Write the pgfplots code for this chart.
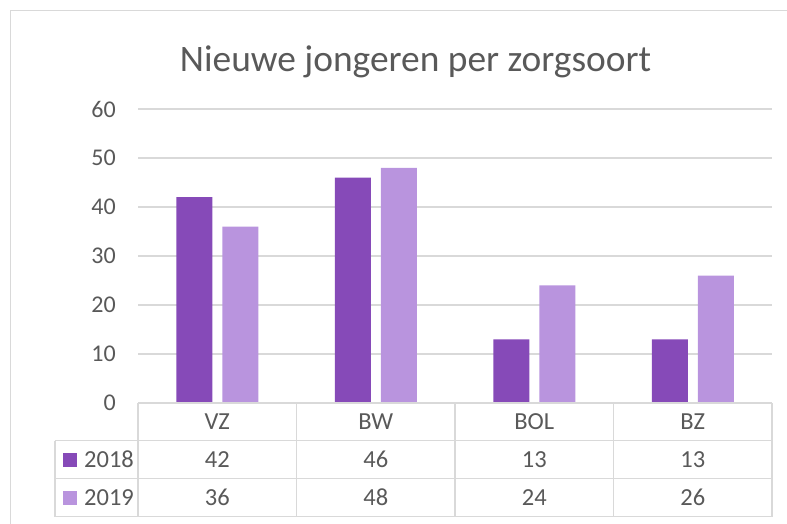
\documentclass[border=0pt]{standalone}
\usepackage{pgfplots}
\pgfplotsset{compat=1.18}
\usepackage{fontspec}
\setmainfont{Carlito}
\definecolor{txt}{HTML}{595959}
\definecolor{gridc}{HTML}{D9D9D9}
\definecolor{cA}{HTML}{864AB8}
\definecolor{cB}{HTML}{B994DE}
\tikzset{
  tbl/.style={text=txt, font=\fontsize{24.5}{28}\selectfont},
  tln/.style={gridc, line width=1.5pt},
}
\begin{document}
\begin{tikzpicture}[x=1pt,y=1pt]
\useasboundingbox (0,0) rectangle (787,523);
\draw[gridc, line width=1.5pt] (10.5,-5) -- (10.5,512.5) -- (800,512.5);
\node[anchor=base, text=txt, font=\fontsize{37.4}{42}\selectfont] at (415.5,451.3) {Nieuwe jongeren per zorgsoort};
\begin{axis}[
  at={(138pt,120pt)}, anchor=south west,
  width=634pt, height=294pt, scale only axis,
  xmin=-0.5, xmax=3.5, ymin=0, ymax=60,
  clip=false,
  axis line style={draw=none},
  tick style={draw=none},
  xtick=\empty,
  ytick={0,10,...,60},
  ymajorgrids,
  grid style={gridc, line width=1.5pt},
  /pgf/number format/assume math mode=true,
  yticklabel style={anchor=east, inner sep=0pt, xshift=-22pt, text=txt, font=\fontsize{24}{28}\selectfont},
  ybar=10pt, bar width=36pt,
]
\addplot[fill=cA, draw=none] coordinates {(0,42) (1,46) (2,13) (3,13)};
\addplot[fill=cB, draw=none] coordinates {(0,36) (1,48) (2,24) (3,26)};
% data table lines
\draw[tln] (axis cs:-0.5,0) -- (axis cs:3.5,0);
\draw[tln] ([xshift=-83pt]axis cs:-0.5,-7.69) -- (axis cs:3.5,-7.69);
\draw[tln] ([xshift=-83pt]axis cs:-0.5,-15.45) -- (axis cs:3.5,-15.45);
\draw[tln] ([xshift=-83pt]axis cs:-0.5,-23.2) -- (axis cs:3.5,-23.2);
\draw[tln] ([xshift=-83pt]axis cs:-0.5,-7.69) -- ([xshift=-83pt]axis cs:-0.5,-23.2);
\draw[tln] (axis cs:-0.5,0) -- (axis cs:-0.5,-23.2);
\draw[tln] (axis cs:0.5,0) -- (axis cs:0.5,-23.2);
\draw[tln] (axis cs:1.5,0) -- (axis cs:1.5,-23.2);
\draw[tln] (axis cs:2.5,0) -- (axis cs:2.5,-23.2);
\draw[tln] (axis cs:3.5,0) -- (axis cs:3.5,-23.2);
% header
\node[tbl] at (axis cs:0,-3.78) {VZ};
\node[tbl] at (axis cs:1,-3.78) {BW};
\node[tbl] at (axis cs:2,-3.78) {BOL};
\node[tbl] at (axis cs:3,-3.78) {BZ};
% values
\node[tbl] at (axis cs:0,-11.57) {42};
\node[tbl] at (axis cs:1,-11.57) {46};
\node[tbl] at (axis cs:2,-11.57) {13};
\node[tbl] at (axis cs:3,-11.57) {13};
\node[tbl] at (axis cs:0,-19.33) {36};
\node[tbl] at (axis cs:1,-19.33) {48};
\node[tbl] at (axis cs:2,-19.33) {24};
\node[tbl] at (axis cs:3,-19.33) {26};
% legend keys
\fill[cA] ([xshift=-75pt,yshift=-7pt]axis cs:-0.5,-11.57) rectangle ++(14pt,14pt);
\fill[cB] ([xshift=-75pt,yshift=-7pt]axis cs:-0.5,-19.33) rectangle ++(14pt,14pt);
\node[tbl, anchor=west, inner sep=0pt] at ([xshift=-54pt]axis cs:-0.5,-11.57) {2018};
\node[tbl, anchor=west, inner sep=0pt] at ([xshift=-54pt]axis cs:-0.5,-19.33) {2019};
\end{axis}
\end{tikzpicture}
\end{document}
